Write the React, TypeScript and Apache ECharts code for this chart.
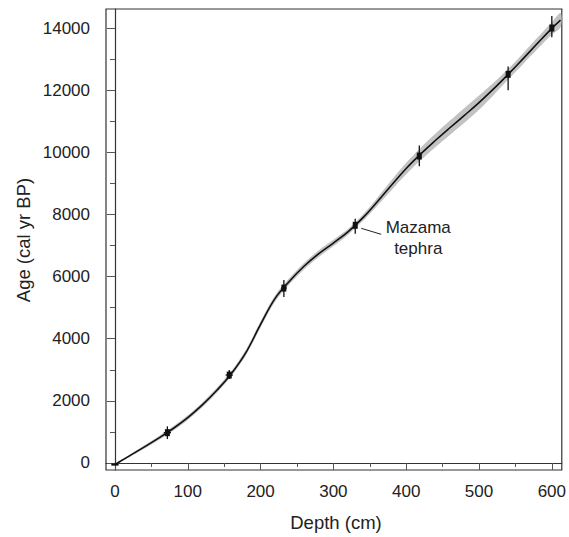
import React, { useEffect, useRef } from "react";
import * as echarts from "echarts";

// Age-depth model curve (depth cm, age cal yr BP)
const curveDepth = [0, 20, 40, 60, 80, 100, 120, 140, 160, 180, 200, 220, 240, 260, 280, 300, 320, 340, 360, 380, 400, 420, 440, 460, 480, 500, 520, 540, 560, 580, 600, 612];
const curveAge = [-50, 230, 510, 800, 1110, 1460, 1870, 2340, 2880, 3560, 4460, 5300, 5860, 6340, 6740, 7080, 7440, 7880, 8400, 8950, 9480, 9950, 10380, 10790, 11190, 11600, 12040, 12510, 13000, 13500, 13990, 14254];
// half-width of the grey uncertainty envelope (years)
const bandHalf = [20, 35, 50, 60, 70, 75, 80, 80, 80, 90, 100, 100, 100, 105, 110, 105, 90, 100, 130, 160, 185, 200, 215, 230, 240, 230, 200, 170, 175, 185, 200, 230];

// Dated control points
const ptDepth = [0, 72, 157, 232, 330, 418, 540, 600];
const ptAge = [-50, 975, 2830, 5630, 7650, 9880, 12510, 14000];
const ptLow = [-50, 770, 2700, 5340, 7380, 9550, 12000, 13700];
const ptHigh = [-50, 1180, 2990, 5890, 7860, 10220, 12760, 14390];
const ptDepthErr = [5, 5, 5, 4, 2, 2, 2, 2];

// Tick values
const depthTicks = [0, 100, 200, 300, 400, 500, 600];
const depthMinor = [50, 150, 250, 350, 450, 550];
const ageTicks = [0, 2000, 4000, 6000, 8000, 10000, 12000, 14000];
const ageMinor = [1000, 3000, 5000, 7000, 9000, 11000, 13000];

const annotation = { depth: 330, age: 7650, lines: ["Mazama", "tephra"] };

const FONT = '"Liberation Sans", Arial, Helvetica, sans-serif';
const TXT = "#222";

export default function App() {
  const ref = useRef<HTMLDivElement>(null);
  useEffect(() => {
    if (!ref.current) return;
    const chart = echarts.init(ref.current, null, { renderer: "svg" });
    const xMin = -12.3, xMax = 613.7, yMin = -226, yMax = 14613;
    const axisLineStyle = { color: "#333", width: 1.2 };
    const option: any = {
      animation: false,
      grid: { left: 106, right: 4, top: 9, bottom: 67, show: true, borderColor: "#333", borderWidth: 1.2, backgroundColor: "transparent" },
      xAxis: [
        {
          type: "value", min: xMin, max: xMax, position: "bottom",
          axisLine: { show: true, lineStyle: axisLineStyle },
          axisTick: { show: true, length: 7, customValues: depthTicks, lineStyle: { color: "#555", width: 1 } },
          axisLabel: { customValues: depthTicks, margin: 13, fontSize: 17, color: TXT, fontFamily: FONT, formatter: (v: number) => String(v) },
          splitLine: { show: false },
        },
        {
          type: "value", min: xMin, max: xMax, position: "bottom", offset: 0,
          axisLine: { show: false },
          axisTick: { show: true, length: 4, customValues: depthMinor, lineStyle: { color: "#555", width: 1 } },
          axisLabel: { show: false },
          splitLine: { show: false },
        },
      ],
      yAxis: [
        {
          type: "value", min: yMin, max: yMax, position: "left",
          axisLine: { show: true, lineStyle: axisLineStyle },
          axisTick: { show: true, length: 8, customValues: ageTicks, lineStyle: { color: "#555", width: 1 } },
          axisLabel: { customValues: ageTicks, margin: 16, fontSize: 17, color: TXT, fontFamily: FONT, formatter: (v: number) => String(v) },
          splitLine: { show: false },
        },
        {
          type: "value", min: yMin, max: yMax, position: "left", offset: 0,
          axisLine: { show: false },
          axisTick: { show: true, length: 5, customValues: ageMinor, lineStyle: { color: "#555", width: 1 } },
          axisLabel: { show: false },
          splitLine: { show: false },
        },
      ],
      graphic: [
        { type: "text", x: 336, y: 522, style: { text: "Depth (cm)", fontSize: 18.5, fontFamily: FONT, fill: TXT, align: "center", verticalAlign: "middle" } },
        { type: "text", x: 23, y: 240, rotation: Math.PI / 2, style: { text: "Age (cal yr BP)", fontSize: 18.5, fontFamily: FONT, fill: TXT, align: "center", verticalAlign: "middle" } },
      ],
      series: [
        {
          type: "custom",
          xAxisIndex: 0, yAxisIndex: 0,
          data: [[0, 0]],
          silent: true,
          z: 1,
          renderItem: (_p: any, api: any) => {
            const upper = curveDepth.map((d, i) => api.coord([d, curveAge[i] + bandHalf[i]]));
            const lower = curveDepth.map((d, i) => api.coord([d, curveAge[i] - bandHalf[i]])).reverse();
            return { type: "polygon", shape: { points: upper.concat(lower), smooth: 0.3 }, style: { fill: "#c2c2c2" } };
          },
        },
        {
          type: "line",
          xAxisIndex: 0, yAxisIndex: 0,
          data: curveDepth.map((d, i) => [d, curveAge[i]]),
          smooth: 0.4,
          symbol: "none",
          lineStyle: { color: "#111", width: 1.6 },
          z: 2,
        },
        {
          type: "custom",
          xAxisIndex: 0, yAxisIndex: 0,
          data: ptDepth.map((d, i) => [d, ptAge[i], ptLow[i], ptHigh[i], ptDepthErr[i]]),
          encode: { x: 0, y: 1 },
          z: 3,
          renderItem: (_p: any, api: any) => {
            const d = api.value(0), a = api.value(1), lo = api.value(2), hi = api.value(3), de = api.value(4);
            const c = api.coord([d, a]);
            const pLo = api.coord([d, lo]);
            const pHi = api.coord([d, hi]);
            const pL = api.coord([d - de, a]);
            const pR = api.coord([d + de, a]);
            const children: any[] = [
              { type: "line", shape: { x1: pL[0], y1: c[1], x2: pR[0], y2: c[1] }, style: { stroke: "#111", lineWidth: lo === hi ? 2.2 : 1.3 } },
            ];
            if (lo !== hi) {
              children.push({ type: "line", shape: { x1: c[0], y1: pLo[1], x2: c[0], y2: pHi[1] }, style: { stroke: "#111", lineWidth: 1.3 } });
              children.push({ type: "rect", shape: { x: c[0] - 2.5, y: c[1] - 3.5, width: 5, height: 7 }, style: { fill: "#111" } });
            }
            return { type: "group", children };
          },
        },
        {
          type: "custom",
          xAxisIndex: 0, yAxisIndex: 0,
          data: [[annotation.depth, annotation.age]],
          encode: { x: 0, y: 1 },
          z: 4,
          renderItem: (_p: any, api: any) => {
            const c = api.coord([api.value(0), api.value(1)]);
            return {
              type: "group",
              children: [
                { type: "line", shape: { x1: c[0] + 6, y1: c[1] + 3, x2: c[0] + 26, y2: c[1] + 9 }, style: { stroke: "#222", lineWidth: 1 } },
                { type: "text", x: c[0] + 63, y: c[1] + 2, style: { text: annotation.lines[0], fontSize: 17, fontFamily: FONT, fill: TXT, align: "center", verticalAlign: "middle" } },
                { type: "text", x: c[0] + 63, y: c[1] + 23, style: { text: annotation.lines[1], fontSize: 17, fontFamily: FONT, fill: TXT, align: "center", verticalAlign: "middle" } },
              ],
            };
          },
        },
      ],
    };
    chart.setOption(option);
    return () => chart.dispose();
  }, []);
  return <div ref={ref} style={{ position: "fixed", left: 0, top: 0, width: 569, height: 537, background: "#fff" }} />;
}
